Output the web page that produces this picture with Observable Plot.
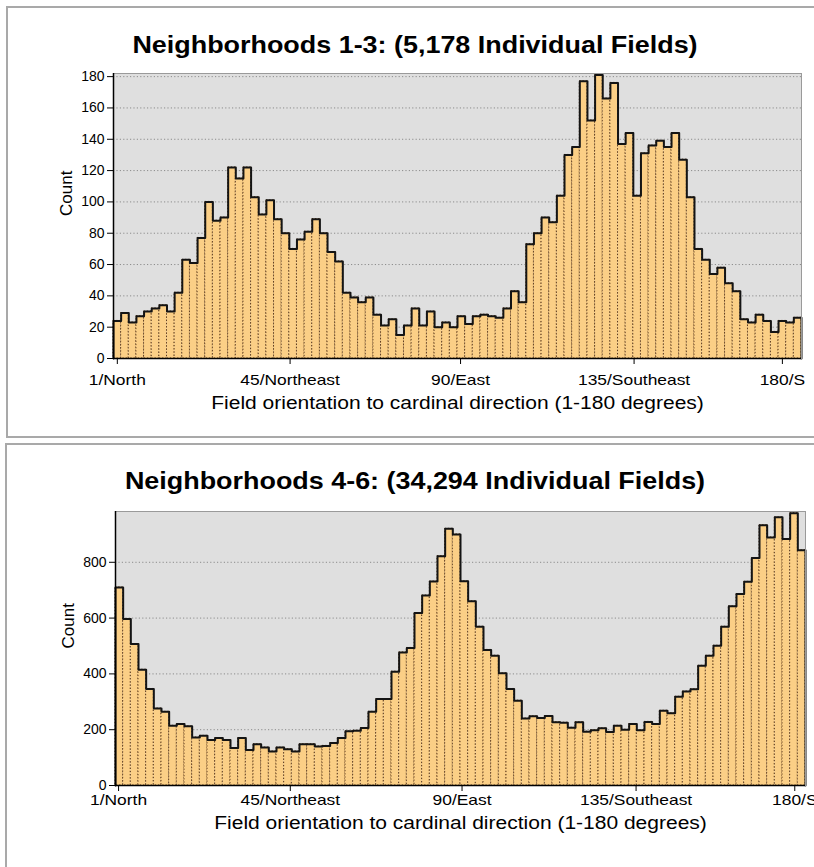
<!DOCTYPE html>
<html>
<head>
<meta charset="utf-8">
<script src="https://cdn.jsdelivr.net/npm/d3@7"></script>
<script src="https://cdn.jsdelivr.net/npm/@observablehq/plot@0.6"></script>
<style>
  html, body { margin: 0; padding: 0; background: #fff; }
  body { width: 814px; height: 867px; overflow: hidden; position: relative;
         font-family: "Liberation Sans", Arial, sans-serif; }
  .box { position: absolute; border: 2px solid #a9a9a9; background: #fff; box-sizing: border-box; }
  .title { position: absolute; left: 0; width: 830px; text-align: center;
           font-weight: bold; font-size: 23px; line-height: 26px; color: #000;
           transform: scaleX(1.17); transform-origin: 415px 50%; }
  .chart { position: absolute; left: 0; }
</style>
</head>
<body>
<div class="box" style="left:6px; top:6px; width:840px; height:432px;"></div>
<div class="box" style="left:5px; top:443px; width:840px; height:440px;"></div>
<div class="title" id="t1" style="top:32px;"></div>
<div class="title" id="t2" style="top:468px;"></div>
<div class="chart" id="c1" style="top:60px;"></div>
<div class="chart" id="c2" style="top:495px;"></div>
<script>
// ---- data (2-degree orientation bins, 90 bins each) ----
const titleTop = "Neighborhoods 1-3: (5,178 Individual Fields)";
const titleBottom = "Neighborhoods 4-6: (34,294 Individual Fields)";
const xTitle = "Field orientation to cardinal direction (1-180 degrees)";
const yTitle = "Count";
const xTickLabels = ["1/North", "45/Northeast", "90/East", "135/Southeast", "180/S"];
// tick positions expressed in bin units along the axis
const xTickBinsTop = [0.5, 23.1, 45.4, 68.1, 87.5];
const xTickBinsBottom = [0.4, 22.8, 45.2, 67.9, 88.6];
const yTicksTop = [0, 20, 40, 60, 80, 100, 120, 140, 160, 180];
const yTicksBottom = [0, 200, 400, 600, 800];
const countsTop = [
  24, 29, 23, 27, 30, 32, 34, 30, 42, 63,
  61, 77, 100, 88, 90, 122, 115, 122, 103, 92,
  101, 89, 80, 70, 76, 81, 89, 80, 68, 62,
  42, 39, 36, 39, 28, 21, 25, 15, 21, 32,
  21, 30, 20, 23, 20, 27, 22, 27, 28, 27,
  26, 32, 43, 36, 73, 80, 90, 87, 104, 130,
  135, 177, 152, 181, 166, 176, 137, 144, 104, 131,
  136, 139, 135, 144, 127, 103, 70, 63, 54, 58,
  48, 43, 25, 23, 28, 24, 17, 24, 23, 26
];
const countsBottom = [
  710, 597, 507, 415, 346, 276, 264, 214, 220, 212,
  172, 178, 163, 170, 163, 134, 170, 127, 148, 136,
  122, 136, 130, 122, 148, 148, 140, 142, 152, 170,
  194, 196, 206, 264, 310, 310, 408, 477, 493, 618,
  681, 731, 822, 920, 900, 732, 660, 569, 486, 465,
  402, 346, 304, 240, 248, 242, 249, 227, 225, 207,
  227, 193, 198, 205, 192, 214, 200, 220, 198, 228,
  220, 268, 259, 318, 337, 345, 429, 465, 501, 569,
  642, 686, 730, 815, 933, 889, 961, 883, 976, 843
];

const FONT = "'Liberation Sans', Arial, sans-serif";
const STRETCH = 1.2; // the original image is horizontally stretched

function histogram({counts, yMax, yTicks, xTicks, height, mt, mb, ml, mr, tickPad, titleDy}) {
  const bins = counts.map((v, i) => ({i, v}));
  const n = counts.length;
  const envelope = [{i: 0, v: 0}, ...bins, {i: n, v: counts[n - 1]}, {i: n, v: 0}];
  const labelOf = new Map(xTicks.map((t, k) => [t, xTickLabels[k]]));
  return Plot.plot({
    width: 814,
    height,
    marginTop: mt, marginBottom: mb, marginLeft: ml, marginRight: mr,
    style: {fontFamily: FONT, fontSize: "14px", color: "#000", background: "transparent", overflow: "visible"},
    x: {domain: [0, n]},
    y: {domain: [0, yMax]},
    marks: [
      Plot.frame({fill: "#dfdfdf", stroke: "none"}),
      Plot.gridY(yTicks.filter(t => t > 0), {stroke: "#8c8c8c", strokeOpacity: 1, strokeDasharray: "1.2,2.2", strokeWidth: 1}),
      Plot.rectY(bins, {x1: "i", x2: d => d.i + 1, y: "v", fill: "#fbcf86",
        stroke: "#5e3b1c", strokeWidth: 1, strokeDasharray: "1.3,1.9"}),
      Plot.line(envelope, {x: "i", y: "v", curve: "step-after", stroke: "#141414", strokeWidth: 2}),
      Plot.frame({stroke: "#9a9a9a", strokeWidth: 1}),
      Plot.ruleX([0], {stroke: "#000", strokeWidth: 1.5}),
      Plot.ruleY([0], {stroke: "#000", strokeWidth: 1.5}),
      Plot.axisY(yTicks, {tickSize: 6, tickPadding: 3, label: null, fontSize: 14, stroke: "#000"}),
      Plot.axisX(xTicks, {tickSize: 6, tickPadding: tickPad, label: null, fontSize: 14.5,
        tickFormat: d => labelOf.get(d), stroke: "#000"}),
      Plot.text([yTitle], {text: d => d, frameAnchor: "left", rotate: -90, dx: -47, fontSize: 17, fill: "#000"}),
      Plot.text([xTitle], {text: d => d, frameAnchor: "bottom", dy: titleDy, fontSize: 17.5, fill: "#000"})
    ]
  });
}

function stretchText(svg) {
  const targets = new Set([...xTickLabels, xTitle]);
  svg.querySelectorAll("text").forEach(el => {
    if (targets.has(el.textContent)) {
      const len = el.getComputedTextLength();
      el.setAttribute("textLength", len * STRETCH);
      el.setAttribute("lengthAdjust", "spacingAndGlyphs");
    }
  });
}

document.getElementById("t1").textContent = titleTop;
document.getElementById("t2").textContent = titleBottom;

const svg1 = histogram({
  counts: countsTop, yMax: 182, yTicks: yTicksTop, xTicks: xTickBinsTop,
  height: 360, mt: 13, mb: 62, ml: 113, mr: 13, tickPad: 10, titleDy: 50
});
document.getElementById("c1").appendChild(svg1);
stretchText(svg1);

const svg2 = histogram({
  counts: countsBottom, yMax: 982, yTicks: yTicksBottom, xTicks: xTickBinsBottom,
  height: 360, mt: 16, mb: 70, ml: 115, mr: 9, tickPad: 3, titleDy: 43
});
document.getElementById("c2").appendChild(svg2);
stretchText(svg2);
</script>
</body>
</html>
